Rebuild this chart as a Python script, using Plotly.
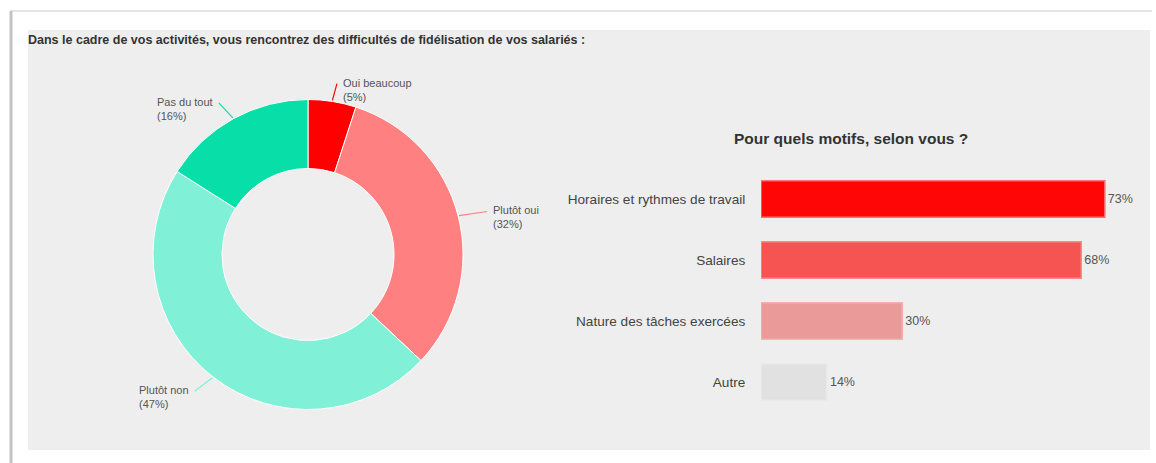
import math
import plotly.graph_objects as go

# Donut: answers to the retention question
pie_labels = ["Oui beaucoup", "Plutôt oui", "Plutôt non", "Pas du tout"]
pie_values = [5, 32, 47, 16]
pie_colors = ["#ff0000", "#ff8080", "#80f0d6", "#08dfa8"]

# Bars: reasons given
bar_labels = ["Horaires et rythmes de travail", "Salaires", "Nature des tâches exercées", "Autre"]
bar_values = [73, 68, 30, 14]
bar_colors = ["#ff0606", "#f65353", "#eb9a9a", "#e1e1e1"]
bar_edges = ["#ff7070", "#f98a8a", "#f6b0b0", "#eaeaea"]

main_title = "Dans le cadre de vos activités, vous rencontrez des difficultés de fidélisation de vos salariés :"
bar_title = "Pour quels motifs, selon vous ?"

W, H = 1156, 463
FONT = "Liberation Sans, Arial, sans-serif"


def px(x):
    return x / W


def py(y):
    return 1 - y / H


# donut geometry (pixels)
CX, CY, R = 308, 254.5, 155

fig = go.Figure()

fig.add_trace(go.Pie(
    labels=pie_labels,
    values=pie_values,
    marker=dict(colors=pie_colors, line=dict(color="#ffffff", width=1)),
    hole=0.555,
    sort=False,
    direction="clockwise",
    rotation=0,
    textinfo="none",
    hoverinfo="label+percent",
    showlegend=False,
    domain=dict(x=[px(CX - R), px(CX + R)], y=[py(CY + R), py(CY - R)]),
))

# bar chart axes: x = 0 sits at pixel 761, 4.71 px per percent
BAR_X0, PX_PER = 761, 4.71
X_MAX = 82
ROW0, ROW_STEP = 199, 61

fig.add_trace(go.Bar(
    x=bar_values,
    y=bar_labels,
    orientation="h",
    marker=dict(color=bar_colors, line=dict(color=bar_edges, width=1.5)),
    width=0.6,
    text=[f"{v}%" for v in bar_values],
    textposition="outside",
    textfont=dict(family=FONT, size=12.5, color="#555555"),
    cliponaxis=False,
    showlegend=False,
    hoverinfo="x+y",
    xaxis="x",
    yaxis="y",
))

shapes = [
    # card frame
    dict(type="line", xref="paper", yref="paper", x0=px(10), x1=px(1152), y0=py(11), y1=py(11),
         line=dict(color="#e4e4e4", width=2), layer="below"),
    dict(type="line", xref="paper", yref="paper", x0=px(11), x1=px(11), y0=py(11), y1=0,
         line=dict(color="#c2c2c2", width=3), layer="below"),
    # grey panel
    dict(type="rect", xref="paper", yref="paper", x0=px(28), x1=px(1150), y0=py(450), y1=py(30),
         fillcolor="#eeeeee", line=dict(width=0), layer="below"),
]

annotations = [
    dict(text=f"<b>{main_title}</b>", x=px(26), y=py(40), xref="paper", yref="paper",
         xanchor="left", yanchor="middle", showarrow=False,
         font=dict(family=FONT, size=12.5, color="#333333")),
    dict(text=f"<b>{bar_title}</b>", x=px(851), y=py(138), xref="paper", yref="paper",
         xanchor="center", yanchor="middle", showarrow=False,
         font=dict(family=FONT, size=15.5, color="#333333")),
]

# leader lines and labels placed from each slice's mid angle
total = sum(pie_values)
cum = 0
LEAD_X, LEAD_Y = 30, 18
for lab, val, col in zip(pie_labels, pie_values, pie_colors):
    mid = (cum + val / 2) / total * 2 * math.pi
    cum += val
    sx, sy = math.sin(mid), -math.cos(mid)
    x0, y0 = CX + (R + 1) * sx, CY + (R + 1) * sy
    x1, y1 = CX + (R + LEAD_X) * sx, CY + (R + LEAD_Y) * sy
    shapes.append(dict(type="line", xref="paper", yref="paper",
                       x0=px(x0), y0=py(y0), x1=px(x1), y1=py(y1),
                       line=dict(color=col, width=1.2)))
    right = sx >= 0
    pct = round(val / total * 100)
    annotations.append(dict(
        text=f"{lab}<br>({pct}%)", align="left",
        x=px(x1 + (4 if right else -4)), y=py(y1 + 6),
        xref="paper", yref="paper",
        xanchor="left" if right else "right", yanchor="middle",
        showarrow=False,
        font=dict(family=FONT, size=11, color="#555555"),
    ))

y_top = ROW0 - ROW_STEP / 2
y_bot = ROW0 + ROW_STEP * (len(bar_labels) - 0.5)

fig.update_layout(
    width=W, height=H,
    margin=dict(l=0, r=0, t=0, b=0),
    paper_bgcolor="#ffffff",
    plot_bgcolor="rgba(0,0,0,0)",
    font=dict(family=FONT, color="#444444"),
    xaxis=dict(domain=[px(BAR_X0), px(BAR_X0 + PX_PER * X_MAX)], range=[0, X_MAX],
               visible=False, fixedrange=True),
    yaxis=dict(domain=[py(y_bot), py(y_top)], range=[len(bar_labels) - 0.5, -0.5],
               type="category", showgrid=False, zeroline=False, showline=False,
               ticks="outside", ticklen=12, tickcolor="rgba(0,0,0,0)",
               tickfont=dict(family=FONT, size=13.6, color="#444444"), fixedrange=True),
    shapes=shapes,
    annotations=annotations,
)

fig.write_html("out.html")
